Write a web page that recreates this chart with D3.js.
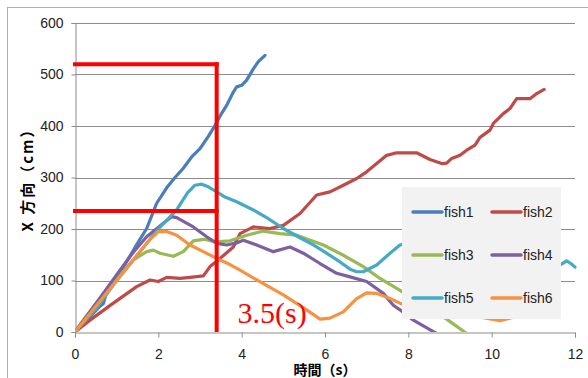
<!DOCTYPE html>
<html>
<head>
<meta charset="utf-8">
<script src="https://cdn.jsdelivr.net/npm/d3@7"></script>
<style>
  body { margin: 0; background: #fff; }
  svg { display: block; font-family: "Liberation Sans", Arial, sans-serif; }
</style>
</head>
<body>
<div id="chart"></div>
<script>
// fish x-position over time
const names = ['fish1', 'fish2', 'fish3', 'fish4', 'fish5', 'fish6'];
const colors = ['#4a7ebb', '#be4b48', '#98b954', '#7d60a0', '#46aac5', '#f69240'];

const fish1 = [[0,0],[0.2,15],[0.4,33],[0.6,50],[0.68,55],[0.75,75],[0.9,95],[1.1,118],[1.3,145],[1.5,172],[1.72,201],[1.96,250],[2.2,280],[2.4,300],[2.6,318],[2.8,340],[3.0,356],[3.2,380],[3.36,401],[3.5,422],[3.64,440],[3.8,466],[3.88,476],[4.0,479],[4.12,489],[4.28,511],[4.4,525],[4.56,537]];
const fish2 = [[0,0],[0.36,23],[0.92,56],[1.48,88],[1.8,101],[2.0,98],[2.2,106],[2.52,104],[2.76,106],[3.08,109],[3.24,127],[3.44,140],[3.8,165],[3.96,191],[4.28,204],[4.68,201],[5.0,207],[5.4,230],[5.8,266],[6.12,272],[6.44,285],[6.76,298],[7.0,311],[7.24,327],[7.48,343],[7.72,348],[8.2,348],[8.52,335],[8.8,327],[8.92,328],[9.04,337],[9.24,343],[9.4,353],[9.6,363],[9.72,378],[9.96,392],[10.04,405],[10.28,424],[10.44,434],[10.6,453],[10.92,453],[11.08,463],[11.26,471]];
const fish3 = [[0,0],[0.1,12],[0.5,55],[1.0,103],[1.4,140],[1.72,156],[1.88,159],[2.04,153],[2.36,147],[2.6,156],[2.84,177],[3.08,180],[3.4,175],[3.72,177],[4.12,188],[4.52,196],[4.92,191],[5.32,188],[5.96,169],[6.44,149],[6.92,127],[7.32,104],[7.8,81],[8.4,50],[8.92,25],[9.4,-3]];
const fish4 = [[0,0],[0.5,55],[1.08,120],[1.4,155],[1.72,185],[2.12,211],[2.32,224],[2.44,222],[2.84,204],[3.16,185],[3.4,172],[3.64,169],[3.88,173],[4.04,178],[4.36,169],[4.76,156],[5.16,165],[5.48,153],[5.88,133],[6.28,114],[6.6,107],[7.0,98],[7.4,75],[7.64,52],[7.8,43],[8.12,23],[8.68,-3]];
const fish5 = [[0,0],[0.5,45],[1.0,100],[1.5,150],[2.0,200],[2.44,237],[2.7,270],[2.88,285],[3.04,287],[3.2,282],[3.4,272],[3.6,262],[3.88,253],[4.28,237],[4.6,222],[5.0,201],[5.4,183],[5.72,169],[6.0,155],[6.36,136],[6.6,122],[6.76,117],[6.92,117],[7.24,130],[7.56,153],[7.8,169],[7.95,172],[8.5,170],[9.5,150],[10.5,130],[11.2,125],[11.6,128],[11.8,138],[11.9,133],[12.0,126]];
const fish6 = [[0,0],[0.5,50],[1.0,100],[1.5,150],[1.8,180],[2.0,195],[2.2,195],[2.44,188],[2.76,169],[3.08,156],[3.4,143],[3.72,131],[3.96,120],[4.36,101],[5.0,72],[5.56,43],[5.88,25],[6.12,27],[6.44,39],[6.76,65],[7.0,76],[7.24,75],[7.56,65],[7.8,56],[8.2,44],[8.8,38],[9.4,35],[9.8,28],[10.2,22],[10.6,30],[11.0,40]];
const series = [fish1, fish2, fish3, fish4, fish5, fish6];

const xTicks = [0, 2, 4, 6, 8, 10, 12];
const yTicks = [0, 100, 200, 300, 400, 500, 600];

// red guide lines
const guideY = [520, 235];
const guideX = 3.4;
const guideLabel = '3.5(s)';

const width = 588, height = 378;
const mLeft = 75, mRight = 575, mTop = 23, mBottom = 332;

const svg = d3.select('#chart').append('svg').attr('width', width).attr('height', height);

// chart frame
svg.append('rect').attr('x', 7.5).attr('y', 7.5).attr('width', 600).attr('height', 400)
  .attr('fill', 'none').attr('stroke', '#b0b0b0');

const x = d3.scaleLinear().domain([0, 12]).range([mLeft, mRight]);
const y = d3.scaleLinear().domain([0, 600]).range([mBottom, mTop]);

// gridlines
svg.append('g').selectAll('line').data(yTicks.slice(1)).enter().append('line')
  .attr('x1', mLeft).attr('x2', mRight)
  .attr('y1', d => Math.round(y(d)) + 0.5).attr('y2', d => Math.round(y(d)) + 0.5)
  .attr('stroke', '#8c8c8c');

const yAxis = svg.append('g').attr('transform', `translate(${mLeft + 0.5},0)`)
  .call(d3.axisLeft(y).tickValues(yTicks).tickSize(4).tickPadding(8));
const xAxis = svg.append('g').attr('transform', `translate(0,${mBottom + 0.5})`)
  .call(d3.axisBottom(x).tickValues(xTicks).tickSize(5).tickPadding(12));
[xAxis, yAxis].forEach(a => {
  a.select('.domain').attr('stroke', '#8c8c8c');
  a.selectAll('.tick line').attr('stroke', '#8c8c8c');
  a.selectAll('text').attr('font-size', 14).attr('fill', '#222').attr('font-family', '"Liberation Sans", Arial, sans-serif');
});

svg.append('defs').append('clipPath').attr('id', 'plot')
  .append('rect').attr('x', mLeft).attr('y', mTop - 5).attr('width', mRight - mLeft + 2).attr('height', mBottom - mTop + 5);

const line = d3.line().x(d => x(d[0])).y(d => y(d[1]));

svg.append('g').attr('clip-path', 'url(#plot)')
  .selectAll('path').data(series).enter().append('path')
  .attr('d', line)
  .attr('fill', 'none')
  .attr('stroke', (d, i) => colors[i])
  .attr('stroke-width', 3.2)
  .attr('stroke-linejoin', 'round')
  .attr('stroke-linecap', 'round');

// red annotation
const red = svg.append('g').attr('stroke', '#ff0000').attr('stroke-width', 4);
guideY.forEach(v => {
  red.append('line').attr('x1', mLeft - 2).attr('x2', x(guideX) + 2).attr('y1', y(v)).attr('y2', y(v));
});
red.append('line').attr('x1', x(guideX)).attr('x2', x(guideX)).attr('y1', y(guideY[0]) - 2).attr('y2', mBottom);
svg.append('text').attr('x', x(3.9)).attr('y', y(17))
  .attr('font-family', '"Liberation Serif", "DejaVu Serif", serif').attr('font-size', 30)
  .attr('fill', '#ff0000').text(guideLabel);

// legend
const lg = svg.append('g').attr('transform', 'translate(402,187)');
lg.append('rect').attr('width', 159).attr('height', 132).attr('fill', '#f2f2f2');
const item = lg.selectAll('.item').data(names).enter().append('g')
  .attr('transform', (d, i) => `translate(${(i % 2) * 79},${25 + Math.floor(i / 2) * 43})`);
item.append('line').attr('x1', 11).attr('x2', 40)
  .attr('stroke', (d, i) => colors[i]).attr('stroke-width', 3.5).attr('stroke-linecap', 'round');
item.append('text').attr('x', 42).attr('dy', '0.35em').attr('font-size', 14).attr('fill', '#222').text(d => d);

// axis titles
svg.append('text').attr('x', 325).attr('y', 375).attr('text-anchor', 'middle')
  .attr('font-family', '"Noto Sans CJK JP", sans-serif').attr('font-weight', 'bold').attr('font-size', 14)
  .text('時間（s）');
svg.append('text').attr('transform', 'translate(33,176) rotate(-90)').attr('text-anchor', 'middle')
  .attr('font-family', '"Noto Sans CJK JP", sans-serif').attr('font-weight', 'bold').attr('font-size', 15)
  .attr('letter-spacing', 2)
  .text('X 方向（cm）');
</script>
</body>
</html>
